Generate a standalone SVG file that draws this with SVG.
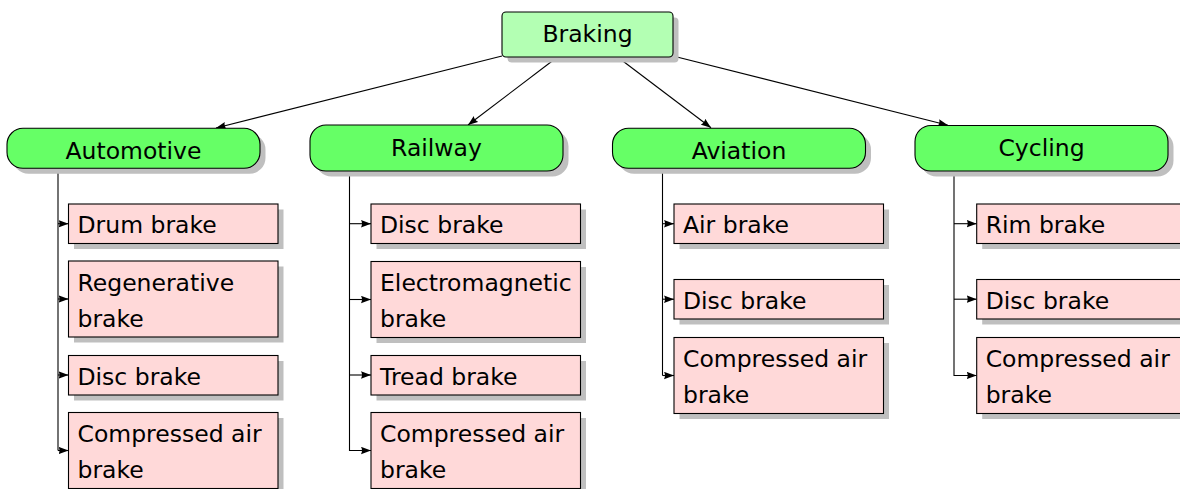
<svg xmlns="http://www.w3.org/2000/svg" width="1180" height="489" viewBox="0 0 1180 489">
  <style>
    text { font-family: "DejaVu Sans", "Liberation Sans", sans-serif; font-size: 23.5px; fill: #000; }
    .mid { text-anchor: middle; }
    .shadow { fill: #bfbfbf; stroke: none; }
    .root { fill: #b3ffb3; stroke: #000; stroke-width: 1.1; }
    .cat { fill: #66ff66; stroke: #000; stroke-width: 1.1; }
    .leaf { fill: #ffd9d9; stroke: #000; stroke-width: 1.1; }
    .edge { fill: none; stroke: #000; stroke-width: 1.1; }
  </style>
  <defs>
    <marker id="arrow" viewBox="0 0 10 8" refX="10" refY="4" markerWidth="10" markerHeight="8" markerUnits="userSpaceOnUse" orient="auto">
      <path d="M0,0.3 L10,4 L0,7.7 Q2,4 0,0.3 z" fill="#000"/>
    </marker>
  </defs>

  <!-- connectors -->
  <g id="connectors">
    <line class="edge" x1="502" y1="56" x2="216" y2="128" marker-end="url(#arrow)"/>
    <line class="edge" x1="557.5" y1="57" x2="468" y2="125" marker-end="url(#arrow)"/>
    <line class="edge" x1="617.5" y1="57" x2="711" y2="127.8" marker-end="url(#arrow)"/>
    <line class="edge" x1="673" y1="56" x2="948" y2="125.3" marker-end="url(#arrow)"/>

    <!-- Automotive branch -->
    <path class="edge" d="M58,168.5 V450.5"/>
    <path class="edge" d="M58,223.7 H68.5" marker-end="url(#arrow)"/>
    <path class="edge" d="M58,299 H68.5" marker-end="url(#arrow)"/>
    <path class="edge" d="M58,375 H68.5" marker-end="url(#arrow)"/>
    <path class="edge" d="M58,450.5 H68.5" marker-end="url(#arrow)"/>

    <!-- Railway branch -->
    <path class="edge" d="M349.5,171 V450.5 H371" marker-end="url(#arrow)"/>
    <path class="edge" d="M349.5,223.7 H371" marker-end="url(#arrow)"/>
    <path class="edge" d="M349.5,299.5 H371" marker-end="url(#arrow)"/>
    <path class="edge" d="M349.5,375 H371" marker-end="url(#arrow)"/>

    <!-- Aviation branch -->
    <path class="edge" d="M662.5,168.5 V375.5"/>
    <path class="edge" d="M662.5,223.7 H674" marker-end="url(#arrow)"/>
    <path class="edge" d="M662.5,299.2 H674" marker-end="url(#arrow)"/>
    <path class="edge" d="M662.5,375.5 H674" marker-end="url(#arrow)"/>

    <!-- Cycling branch -->
    <path class="edge" d="M954,171 V375.5 H976.7" marker-end="url(#arrow)"/>
    <path class="edge" d="M954,223.7 H976.7" marker-end="url(#arrow)"/>
    <path class="edge" d="M954,299.2 H976.7" marker-end="url(#arrow)"/>
  </g>

  <!-- root -->
  <g id="braking">
    <rect class="shadow" x="507.5" y="17.5" width="171" height="45" rx="4"/>
    <rect class="root" x="502" y="12" width="171" height="45" rx="4"/>
    <text class="mid" x="587.5" y="42.3">Braking</text>
  </g>

  <!-- categories -->
  <g id="automotive">
    <rect class="shadow" x="12.5" y="133.8" width="253" height="40" rx="16"/>
    <rect class="cat" x="7" y="128.3" width="253" height="40" rx="16"/>
    <text class="mid" x="133.5" y="158.7">Automotive</text>
  </g>
  <g id="railway">
    <rect class="shadow" x="315.5" y="130.5" width="253" height="46" rx="16"/>
    <rect class="cat" x="310" y="125" width="253" height="46" rx="16"/>
    <text class="mid" x="436.5" y="155.7">Railway</text>
  </g>
  <g id="aviation">
    <rect class="shadow" x="618" y="133.8" width="253" height="40" rx="16"/>
    <rect class="cat" x="612.5" y="128.3" width="253" height="40" rx="16"/>
    <text class="mid" x="739" y="158.5">Aviation</text>
  </g>
  <g id="cycling">
    <rect class="shadow" x="920.5" y="131" width="253" height="45.5" rx="16"/>
    <rect class="cat" x="915" y="125.5" width="253" height="45.5" rx="16"/>
    <text class="mid" x="1041.5" y="155.7">Cycling</text>
  </g>

  <!-- Automotive leaves -->
  <g id="auto-drum">
    <rect class="shadow" x="74" y="209.5" width="209.5" height="39.5"/>
    <rect class="leaf" x="68.5" y="204" width="209.5" height="39.5"/>
    <text x="77.5" y="233.3">Drum brake</text>
  </g>
  <g id="auto-regenerative">
    <rect class="shadow" x="74" y="266.5" width="209.5" height="76"/>
    <rect class="leaf" x="68.5" y="261" width="209.5" height="76"/>
    <text x="77.5" y="290.5">Regenerative</text>
    <text x="77.5" y="326.5">brake</text>
  </g>
  <g id="auto-disc">
    <rect class="shadow" x="74" y="361" width="209.5" height="39.5"/>
    <rect class="leaf" x="68.5" y="355.5" width="209.5" height="39.5"/>
    <text x="77.5" y="384.8">Disc brake</text>
  </g>
  <g id="auto-compressed">
    <rect class="shadow" x="74" y="418" width="209.5" height="76"/>
    <rect class="leaf" x="68.5" y="412.5" width="209.5" height="76"/>
    <text x="77.5" y="441.8">Compressed air</text>
    <text x="77.5" y="477.8">brake</text>
  </g>

  <!-- Railway leaves -->
  <g id="rail-disc">
    <rect class="shadow" x="376.5" y="209.5" width="209.5" height="39.5"/>
    <rect class="leaf" x="371" y="204" width="209.5" height="39.5"/>
    <text x="380" y="233.3">Disc brake</text>
  </g>
  <g id="rail-electromagnetic">
    <rect class="shadow" x="376.5" y="267" width="209.5" height="76"/>
    <rect class="leaf" x="371" y="261.5" width="209.5" height="76"/>
    <text x="380" y="291">Electromagnetic</text>
    <text x="380" y="327">brake</text>
  </g>
  <g id="rail-tread">
    <rect class="shadow" x="376.5" y="361" width="209.5" height="39.5"/>
    <rect class="leaf" x="371" y="355.5" width="209.5" height="39.5"/>
    <text x="380" y="384.8">Tread brake</text>
  </g>
  <g id="rail-compressed">
    <rect class="shadow" x="376.5" y="418" width="209.5" height="76"/>
    <rect class="leaf" x="371" y="412.5" width="209.5" height="76"/>
    <text x="380" y="441.8">Compressed air</text>
    <text x="380" y="477.8">brake</text>
  </g>

  <!-- Aviation leaves -->
  <g id="avia-air">
    <rect class="shadow" x="679.5" y="209.5" width="209.5" height="39.5"/>
    <rect class="leaf" x="674" y="204" width="209.5" height="39.5"/>
    <text x="683" y="233.3">Air brake</text>
  </g>
  <g id="avia-disc">
    <rect class="shadow" x="679.5" y="285" width="209.5" height="39.5"/>
    <rect class="leaf" x="674" y="279.5" width="209.5" height="39.5"/>
    <text x="683" y="308.8">Disc brake</text>
  </g>
  <g id="avia-compressed">
    <rect class="shadow" x="679.5" y="343" width="209.5" height="76"/>
    <rect class="leaf" x="674" y="337.5" width="209.5" height="76"/>
    <text x="683" y="366.8">Compressed air</text>
    <text x="683" y="402.8">brake</text>
  </g>

  <!-- Cycling leaves -->
  <g id="cyc-rim">
    <rect class="shadow" x="982.2" y="209.5" width="209.5" height="39.5"/>
    <rect class="leaf" x="976.7" y="204" width="209.5" height="39.5"/>
    <text x="985.7" y="233.3">Rim brake</text>
  </g>
  <g id="cyc-disc">
    <rect class="shadow" x="982.2" y="285" width="209.5" height="39.5"/>
    <rect class="leaf" x="976.7" y="279.5" width="209.5" height="39.5"/>
    <text x="985.7" y="308.8">Disc brake</text>
  </g>
  <g id="cyc-compressed">
    <rect class="shadow" x="982.2" y="343" width="209.5" height="76"/>
    <rect class="leaf" x="976.7" y="337.5" width="209.5" height="76"/>
    <text x="985.7" y="366.8">Compressed air</text>
    <text x="985.7" y="402.8">brake</text>
  </g>
</svg>
